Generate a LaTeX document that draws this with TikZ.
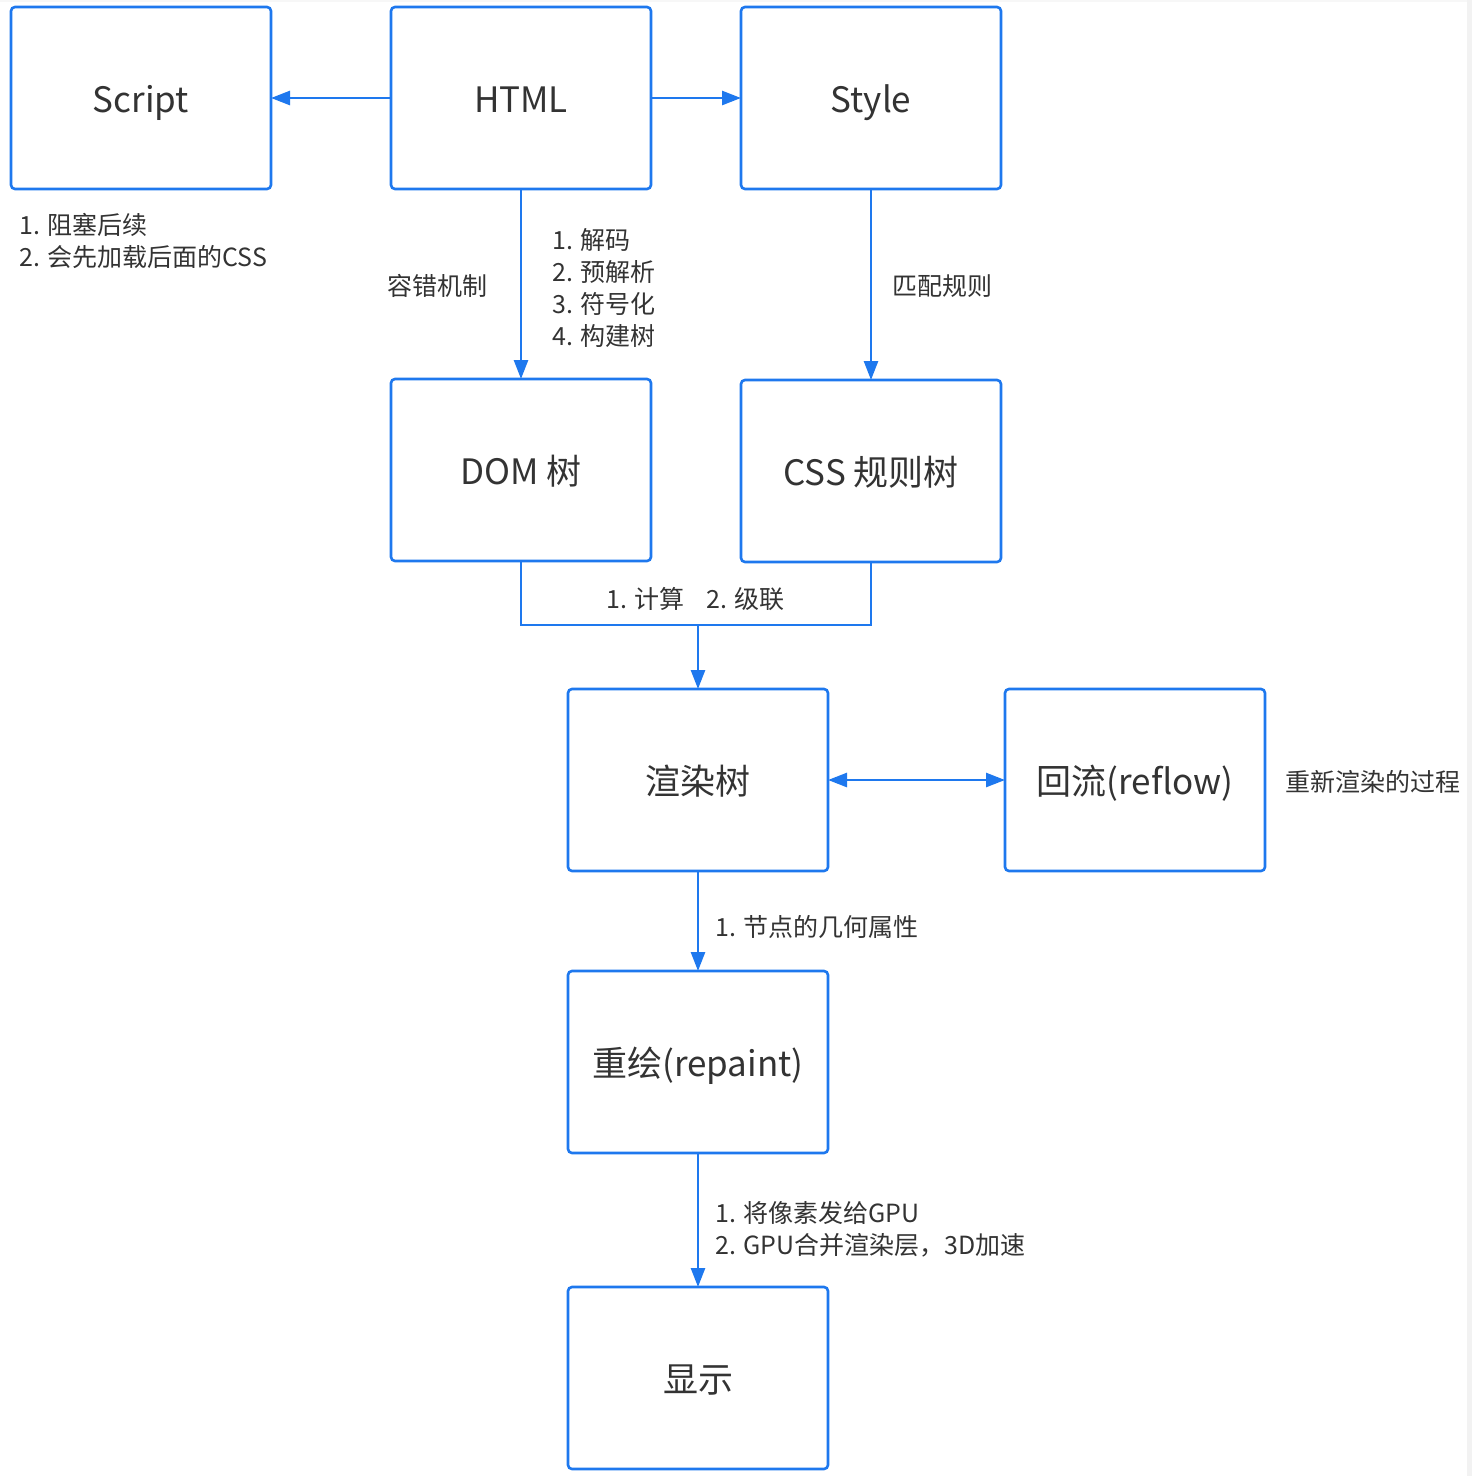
\documentclass[tikz,border=0pt]{standalone}
\usepackage{fontspec}
\setmainfont{Noto Sans CJK SC}
\usetikzlibrary{arrows.meta}
\definecolor{lineblue}{RGB}{30,120,238}
\definecolor{txt}{RGB}{51,51,51}
\tikzset{
  box/.style={draw=lineblue, line width=2.6pt, rounded corners=4pt, minimum width=260pt, minimum height=182pt, inner sep=0pt, outer sep=0pt, text=txt, text height=31pt, text depth=2pt, font=\fontsize{35}{42}\selectfont},
  lbl/.style={text=txt, font=\fontsize{25}{32}\selectfont, align=left, inner sep=0pt, anchor=west},
  conn/.style={draw=lineblue, line width=2.6pt, -{Triangle[length=19pt,width=14pt]}},
  link/.style={draw=lineblue, line width=2.6pt}
}
\begin{document}
\begin{tikzpicture}[x=1pt,y=-1pt]
\useasboundingbox (0,0) rectangle (1472,1476);
\fill[white] (0,0) rectangle (1472,1476);
\fill[black!5] (1467,0) rectangle (1472,1476);
\fill[black!3] (0,0) rectangle (1467,2);

\node[box] (script) at (141,98) {Script};
\node[box] (html) at (521,98) {HTML};
\node[box] (style) at (871,98) {Style};
\node[box] (dom) at (521,470) {DOM 树};
\node[box] (css) at (871,471) {CSS 规则树};
\node[box] (render) at (698,780) {渲染树};
\node[box] (reflow) at (1135,780) {回流(reflow)};
\node[box] (repaint) at (698,1062) {重绘(repaint)};
\node[box] (show) at (698,1378) {显示};

\draw[conn] (html.west) -- (script.east);
\draw[conn] (html.east) -- (style.west);
\draw[conn] (html.south) -- (dom.north);
\draw[conn] (style.south) -- (css.north);
\coordinate (j) at (698,625);
\draw[link] (dom.south) |- (j) -| (css.south);
\draw[conn] (j) -- (render.north);
\draw[conn, {Triangle[length=19pt,width=14pt]}-{Triangle[length=19pt,width=14pt]}] (render.east) -- (reflow.west);
\draw[conn] (render.south) -- (repaint.north);
\draw[conn] (repaint.south) -- (show.north);

\node[lbl] (l1) at (19,241) {1. 阻塞后续\\2. 会先加载后面的CSS};
\node[lbl] (l2) at (387,286) {容错机制};
\node[lbl] (l3) at (552,288) {1. 解码\\2. 预解析\\3. 符号化\\4. 构建树};
\node[lbl] (l4) at (892,286) {匹配规则};
\node[lbl] (l5) at (606,599) {1. 计算\hspace{22pt}2. 级联};
\node[lbl] (l6) at (1285,782) {重新渲染的过程};
\node[lbl] (l7) at (715,927) {1. 节点的几何属性};
\node[lbl] (l8) at (715,1229) {1. 将像素发给GPU\\2. GPU合并渲染层，3D加速};
\end{tikzpicture}
\end{document}
